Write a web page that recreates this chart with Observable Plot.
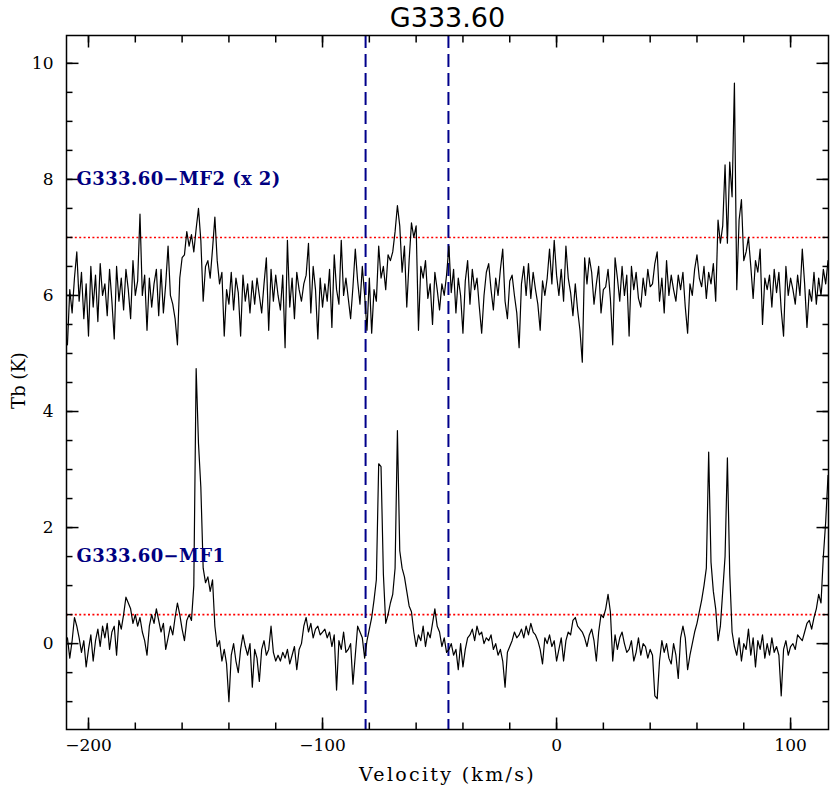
<!DOCTYPE html>
<html><head><meta charset="utf-8">
<script src="https://cdn.jsdelivr.net/npm/d3@7"></script>
<script src="https://cdn.jsdelivr.net/npm/@observablehq/plot@0.6"></script>
<style>
body{margin:0;background:#fff}
g[fill="#000080"] text{letter-spacing:0.4px}
g.xlab text{letter-spacing:2.3px}
</style>
</head><body><div id="chart"></div>
<script>
const title = "G333.60";
const xLabel = "Velocity (km/s)";
const yLabel = "Tb (K)";
const vStart = -209; // velocity of first channel (km/s)
const vStep = 1;     // channel width (km/s)

// G333.60-MF2 (x 2), displayed with +6 K offset
const mf2 = [
  5.15, 6.1, 5.7, 6.3, 6.75, 5.9, 6.4, 5.6, 6.2, 5.3,
  6.5, 5.8, 6.35, 5.55, 6.55, 6.0, 6.2, 5.65, 6.45, 5.9,
  5.25, 6.5, 5.9, 6.3, 5.75, 6.45, 6.1, 5.6, 6.6, 6.0,
  6.25, 7.4, 6.0, 6.35, 5.4, 6.3, 5.8, 6.2, 6.45, 5.65,
  6.45, 5.7, 6.2, 6.85, 6.0, 5.85, 5.6, 5.15, 6.3, 6.65,
  6.7, 7.1, 6.85, 7.05, 6.75, 7.15, 7.5, 6.95, 5.9, 6.5,
  6.6, 6.3, 6.8, 7.35, 6.6, 6.2, 6.4, 5.3, 6.1, 5.85,
  6.4, 5.75, 6.3, 6.05, 5.3, 6.35, 5.9, 6.2, 5.7, 6.25,
  5.85, 6.3, 6.0, 5.7, 6.2, 6.65, 5.4, 6.45, 5.9, 6.35,
  6.0, 5.75, 6.35, 5.1, 6.95, 5.8, 6.3, 5.6, 6.4, 6.1,
  5.9, 6.2, 6.35, 6.9, 5.7, 6.5, 6.1, 5.25, 6.3, 5.8,
  6.2, 5.9, 6.45, 5.45, 6.7, 6.1, 5.85, 6.95, 6.0, 6.3,
  5.95, 5.6, 6.15, 6.8, 6.25, 5.85, 6.5, 6.0, 5.4, 6.3,
  5.35, 6.1, 5.9, 6.85, 6.3, 6.5, 6.1, 6.7, 6.6, 6.75,
  7.1, 7.55, 7.2, 6.4, 6.85, 5.8, 6.6, 7.25, 7.0, 7.2,
  5.4, 6.5, 6.3, 6.6, 5.95, 6.2, 5.5, 6.4, 6.1, 5.75,
  6.2, 6.0, 6.35, 6.85, 6.05, 6.45, 5.7, 6.3, 6.0, 5.35,
  6.25, 6.6, 5.85, 6.45, 6.1, 6.3, 5.8, 5.35, 6.0, 6.4,
  6.55, 6.1, 5.75, 6.3, 6.0, 6.45, 6.8, 5.9, 5.6, 6.25,
  6.35, 6.0, 5.7, 5.1, 6.2, 6.5, 6.0, 6.55, 5.95, 6.4,
  6.1, 5.85, 5.4, 6.25, 6.0, 6.3, 6.8, 6.2, 6.95, 6.35,
  6.0, 6.45, 5.9, 6.85, 6.3, 6.05, 5.65, 6.2, 5.75, 5.4,
  4.85, 6.65, 6.2, 6.65, 6.4, 5.85, 6.2, 6.5, 5.7, 6.1,
  6.15, 6.45, 5.95, 5.15, 6.65, 6.3, 5.9, 6.5, 6.0, 6.35,
  5.3, 6.5, 6.1, 6.4, 5.95, 5.8, 6.3, 6.0, 6.45, 6.15,
  6.2, 6.55, 6.75, 5.9, 6.3, 5.7, 6.6, 6.0, 6.35, 6.1,
  5.9, 6.35, 6.1, 6.4, 5.8, 5.35, 6.2, 6.0, 6.45, 6.7,
  6.3, 6.15, 6.5, 5.95, 6.4, 6.2, 6.55, 5.9, 7.3, 6.9,
  7.2, 8.25, 6.9, 8.3, 7.7, 9.66, 6.1, 7.3, 7.65, 6.6,
  6.75, 7.0, 6.5, 5.95, 6.6, 6.4, 6.8, 5.5, 6.3, 6.1,
  6.35, 5.8, 6.45, 6.05, 6.4, 5.75, 5.3, 6.5, 6.0, 6.3,
  6.1, 5.85, 6.35, 6.0, 6.8, 6.2, 5.45, 6.1, 5.9, 6.4,
  5.85, 6.3, 6.0, 6.45, 6.2, 6.6
];

// G333.60-MF1
const mf1 = [
  0.1, -0.25, 0.05, 0.45, 0.3, 0.1, -0.15, 0.05, -0.4, -0.1,
  0.15, -0.3, 0.05, 0.25, -0.05, 0.3, 0.1, 0.35, -0.1, 0.2,
  0.3, -0.2, 0.4, 0.25, 0.5, 0.8, 0.7, 0.6, 0.35, 0.5,
  0.3, 0.45, 0.2, 0.05, -0.2, 0.3, 0.5, 0.35, 0.6, 0.4,
  0.2, 0.35, -0.1, 0.1, 0.3, 0.15, 0.45, 0.7, 0.5, 0.25,
  0.05, 0.4, 0.5, 0.4, 1.0, 4.74, 3.45, 2.7, 1.3, 1.05,
  1.15, 0.9, 1.1, 0.3, -0.05, 0.05, -0.3, -0.1, -0.35, -1.0,
  -0.2, 0.0, -0.3, -0.5, -0.1, 0.15, -0.05, -0.2, 0.0, -0.75,
  -0.1, -0.25, -0.65, -0.1, 0.05, -0.2, -0.1, 0.3, -0.15, -0.3,
  -0.2, -0.3, -0.15, -0.25, -0.1, -0.35, -0.2, -0.05, -0.45, -0.1,
  0.0, 0.3, 0.45, 0.2, 0.35, 0.1, 0.25, 0.3, 0.15, 0.2,
  0.25, 0.1, 0.2, -0.05, 0.15, -0.8, 0.05, -0.1, 0.2, -0.15,
  -0.1, 0.0, -0.7, -0.2, 0.3, 0.2, 0.1, -0.25, 0.05, 0.25,
  0.45, 0.75, 1.1, 3.1, 3.05, 1.2, 0.35, 0.5, 0.7, 0.85,
  1.3, 3.67, 1.6, 1.3, 1.15, 0.9, 0.65, 0.55, 0.2, -0.05,
  0.15, 0.05, 0.3, -0.05, 0.2, 0.1, 0.35, 0.6, 0.3, 0.2,
  -0.05, 0.1, -0.15, -0.1, 0.0, -0.2, -0.1, -0.45, 0.0, -0.4,
  -0.1, 0.1, 0.15, 0.25, 0.05, 0.3, 0.15, 0.2, 0.0, 0.1,
  0.05, 0.15, -0.1, 0.0, -0.2, -0.1, -0.3, -0.75, -0.15, -0.05,
  0.05, 0.2, 0.1, 0.15, 0.25, 0.1, 0.3, 0.15, 0.35, 0.2,
  0.15, 0.05, -0.1, -0.35, 0.1, 0.0, 0.15, -0.05, 0.05, -0.3,
  -0.1, 0.1, -0.3, 0.05, 0.2, 0.15, 0.4, 0.45, 0.3, 0.25,
  0.2, 0.1, -0.05, 0.15, 0.25, 0.05, -0.3, 0.2, 0.5, 0.45,
  0.6, 0.85, 0.55, -0.3, 0.15, -0.1, 0.1, 0.2, 0.0, -0.15,
  -0.1, 0.05, -0.3, -0.15, 0.1, -0.2, 0.0, -0.05, -0.25, -0.1,
  -0.2, -0.9, -0.95, -0.3, 0.05, -0.15, 0.0, -0.25, -0.35, 0.0,
  -0.2, -0.6, 0.1, 0.3, 0.1, -0.45, -0.2, 0.0, 0.2, 0.35,
  0.55, 0.75, 1.0, 1.3, 3.3, 1.4, 0.9, 0.6, 0.05, 0.3,
  0.9, 1.5, 3.2, 1.2, 0.2, -0.05, -0.2, 0.1, -0.3, 0.0,
  -0.1, 0.25, -0.2, 0.1, -0.4, 0.05, -0.1, 0.15, -0.25, 0.0,
  -0.2, 0.1, -0.15, -0.05, -0.2, -0.9, -0.1, 0.05, -0.2, -0.05,
  0.0, -0.1, 0.15, 0.1, 0.05, 0.2, 0.35, 0.4, 0.25, 0.45,
  0.6, 0.85, 0.7, 1.5, 2.1, 2.9
];

const seriesNames = ["G333.60−MF2 (x 2)", "G333.60−MF1"];
const seriesLabelLevel = [8, 1.5];       // Tb level where each name sits
const thresholdLevels = [7.0, 0.5];      // red dotted levels (K)
const velocityMarkers = [-81.6, -46.2];  // blue dashed velocities (km/s)
const xMajorTicks = [-200, -100, 0, 100];
const xMinorTicks = [-200, -180, -160, -140, -120, -100, -80, -60, -40, -20, 0, 20, 40, 60, 80, 100];
const yMajorTicks = [0, 2, 4, 6, 8, 10];
const yMinorTicks = [-1, -0.5, 0, 0.5, 1, 1.5, 2, 2.5, 3, 3.5, 4, 4.5, 5, 5.5, 6, 6.5, 7, 7.5, 8, 8.5, 9, 9.5, 10];

const xDomain = [-209.4, 116.2];
const yDomain = [-1.48, 10.48];

const rows2 = mf2.map((t, i) => ({v: vStart + i * vStep, tb: t}));
const rows1 = mf1.map((t, i) => ({v: vStart + i * vStep, tb: t}));
const labelRows = seriesNames.map((n, i) => ({name: n, level: seriesLabelLevel[i]}));

const W = 830, H = 787, mT = 35, mR = 2, mB = 58, mL = 66;
const fw = W - mL - mR, fh = H - mT - mB;
// pixel tick lengths converted to data units so ticks point inward from the frame
const ux = px => px * (xDomain[1] - xDomain[0]) / fw;
const uy = px => px * (yDomain[1] - yDomain[0]) / fh;

// tick segments (two end points each) built from the tick value arrays
const tickSegs = [];
let segId = 0;
function addX(vals, len) {
  for (const v of vals) {
    tickSegs.push({x: v, y: yDomain[0], k: segId}, {x: v, y: yDomain[0] + uy(len), k: segId++});
    tickSegs.push({x: v, y: yDomain[1], k: segId}, {x: v, y: yDomain[1] - uy(len), k: segId++});
  }
}
function addY(vals, len) {
  for (const v of vals) {
    tickSegs.push({x: xDomain[0], y: v, k: segId}, {x: xDomain[0] + ux(len), y: v, k: segId++});
    tickSegs.push({x: xDomain[1], y: v, k: segId}, {x: xDomain[1] - ux(len), y: v, k: segId++});
  }
}
addX(xMinorTicks, 7);
addX(xMajorTicks, 12);
addY(yMinorTicks, 6);
addY(yMajorTicks, 12);

const chart = Plot.plot({
  width: W, height: H,
  marginTop: mT, marginRight: mR, marginBottom: mB, marginLeft: mL,
  x: {domain: xDomain},
  y: {domain: yDomain},
  style: {fontFamily: "DejaVu Serif", fontSize: "17px", color: "black", background: "white"},
  marks: [
    Plot.ruleY(thresholdLevels, {y: d => d, stroke: "#ff0000", strokeWidth: 1.6, strokeDasharray: "2,2.4"}),
    Plot.ruleX(velocityMarkers, {x: d => d, stroke: "#00008b", strokeWidth: 2, strokeDasharray: "13,6"}),
    Plot.line(rows2, {x: "v", y: "tb", stroke: "black", strokeWidth: 1.2}),
    Plot.line(rows1, {x: "v", y: "tb", stroke: "black", strokeWidth: 1.2}),
    Plot.line(tickSegs, {x: "x", y: "y", z: "k", stroke: "black", strokeWidth: 1.5, strokeLinecap: "butt"}),
    Plot.axisX(xMajorTicks, {anchor: "bottom", tickSize: 0, tickPadding: 9, label: null, fontSize: 17}),
    Plot.axisY(yMajorTicks, {anchor: "left", tickSize: 0, tickPadding: 13, label: null, fontSize: 17, tickFormat: d3.format("d")}),
    Plot.frame({stroke: "black", strokeWidth: 1.5}),
    Plot.text([title], {text: d => d, frameAnchor: "top", dy: -17, lineAnchor: "middle", fontFamily: "DejaVu Sans", fontSize: 27}),
    Plot.text([xLabel], {text: d => d, frameAnchor: "bottom", dy: 45, lineAnchor: "middle", textAnchor: "middle", fontSize: 19, className: "xlab"}),
    Plot.text([yLabel], {text: d => d, frameAnchor: "left", dx: -47, dy: -2, rotate: -90, textAnchor: "middle", lineAnchor: "middle", fontSize: 18}),
    Plot.text(labelRows, {y: "level", text: "name", frameAnchor: "left", dx: 10, textAnchor: "start", lineAnchor: "middle", fill: "#000080", fontWeight: "bold", fontSize: 18})
  ]
});
document.getElementById("chart").append(chart);
</script>
</body></html>
